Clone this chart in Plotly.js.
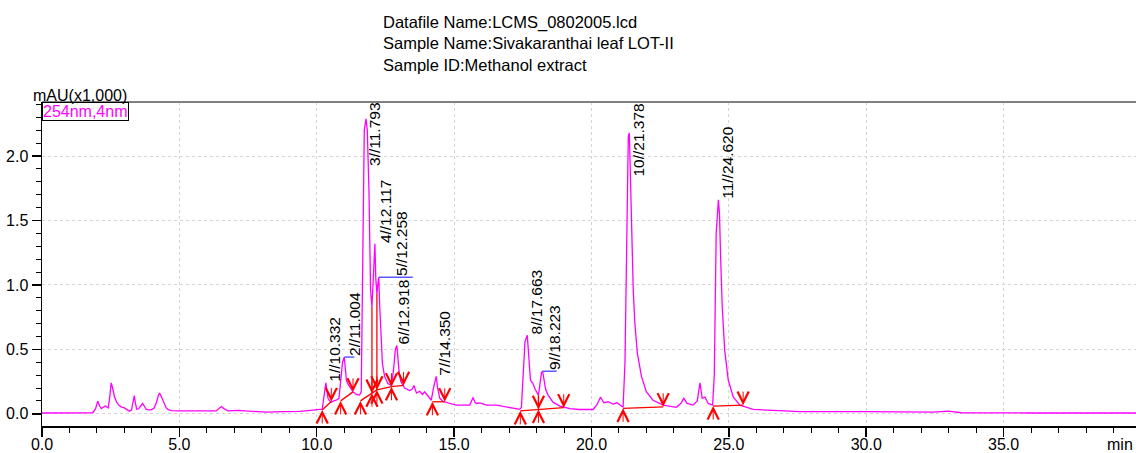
<!DOCTYPE html>
<html><head><meta charset="utf-8">
<script src="https://cdn.plot.ly/plotly-3.0.1.min.js"></script>
<style>html,body{margin:0;padding:0;background:#fff}#chart{width:1136px;height:453px}</style>
</head><body><div id="chart"></div>
<script>
// ---- data ----
const headerLines = ["Datafile Name:LCMS_0802005.lcd", "Sample Name:Sivakaranthai leaf LOT-II", "Sample ID:Methanol extract"];
const channelName = "254nm,4nm";
const yUnitLabel = "mAU(x1,000)";
const xUnitLabel = "min";

const timeMin = [0.0,1.0,1.85,1.95,2.03,2.10,2.16,2.24,2.31,2.37,2.41,2.46,2.52,2.57,2.64,2.72,2.80,2.90,3.00,3.10,3.19,3.26,3.31,3.36,3.40,3.45,3.52,3.59,3.66,3.72,3.79,3.88,3.98,4.08,4.17,4.24,4.28,4.34,4.40,4.46,4.52,4.60,4.70,5.00,5.50,5.98,6.20,6.34,6.44,6.53,6.62,6.77,6.95,7.13,7.40,7.68,8.16,8.80,9.38,9.70,9.92,10.10,10.20,10.26,10.332,10.37,10.41,10.47,10.53,10.62,10.71,10.81,10.88,10.94,11.004,11.04,11.08,11.14,11.20,11.32,11.44,11.56,11.62,11.68,11.73,11.793,11.84,11.90,11.93,11.96,12.01,12.05,12.09,12.117,12.15,12.19,12.22,12.258,12.29,12.33,12.39,12.47,12.59,12.72,12.80,12.86,12.918,12.96,13.00,13.06,13.20,13.38,13.47,13.54,13.63,13.75,13.85,13.93,14.05,14.17,14.25,14.35,14.40,14.48,14.60,14.72,15.08,15.57,15.63,15.69,15.76,15.81,15.93,16.18,16.54,17.02,17.39,17.45,17.52,17.58,17.663,17.72,17.78,17.87,17.95,18.07,18.12,18.18,18.223,18.27,18.33,18.42,18.60,18.85,19.21,19.57,20.06,20.20,20.33,20.45,20.60,20.79,20.93,21.09,21.15,21.22,21.30,21.34,21.378,21.42,21.46,21.52,21.58,21.67,21.82,22.00,22.24,22.61,23.09,23.25,23.36,23.48,23.70,23.85,23.95,24.03,24.13,24.25,24.41,24.47,24.54,24.62,24.66,24.70,24.76,24.85,24.98,25.16,25.40,25.89,26.61,27.59,30.00,32.44,32.99,33.47,36.00,39.82];
const absorbance = [0.006,0.006,0.008,0.04,0.097,0.06,0.04,0.052,0.06,0.05,0.045,0.12,0.24,0.20,0.13,0.09,0.065,0.052,0.045,0.03,0.02,0.03,0.09,0.14,0.08,0.035,0.04,0.065,0.08,0.06,0.035,0.03,0.03,0.045,0.09,0.145,0.16,0.135,0.10,0.065,0.045,0.032,0.025,0.022,0.021,0.024,0.022,0.022,0.04,0.056,0.04,0.022,0.025,0.027,0.022,0.018,0.012,0.016,0.018,0.025,0.033,0.034,0.035,0.12,0.24,0.18,0.12,0.10,0.09,0.10,0.105,0.12,0.25,0.40,0.44,0.36,0.26,0.23,0.21,0.17,0.15,0.145,0.17,1.2,2.2,2.29,2.2,1.74,1.3,0.96,0.83,1.05,1.28,1.32,1.05,0.93,1.0,1.06,0.85,0.6,0.39,0.29,0.235,0.22,0.35,0.50,0.53,0.42,0.32,0.25,0.20,0.18,0.19,0.22,0.16,0.175,0.15,0.17,0.14,0.105,0.20,0.29,0.20,0.12,0.095,0.088,0.067,0.067,0.10,0.127,0.09,0.08,0.085,0.067,0.067,0.05,0.034,0.05,0.30,0.56,0.61,0.45,0.26,0.235,0.19,0.145,0.25,0.32,0.33,0.25,0.19,0.145,0.09,0.06,0.04,0.033,0.033,0.07,0.13,0.085,0.093,0.075,0.085,0.06,0.05,0.40,1.9,2.15,2.18,1.9,1.48,0.96,0.70,0.47,0.29,0.17,0.105,0.067,0.05,0.08,0.12,0.08,0.067,0.10,0.24,0.12,0.13,0.08,0.067,0.30,1.4,1.66,1.55,1.22,0.83,0.49,0.26,0.13,0.067,0.034,0.024,0.016,0.016,0.013,0.02,0.008,0.006,0.006];

const peakNo = [1,2,3,4,5,6,7,8,9,10,11];
const peakRT = [10.332,11.004,11.793,12.117,12.258,12.918,14.350,17.663,18.223,21.378,24.620];

// integration baselines: times and levels (first = start, last = end, interior = drop points)
const baselineTimes = [[10.20,10.53],[10.87,11.32],[11.59,12.01,12.19,12.72],[12.72,13.16],[14.21,14.66],[17.41,18.07,18.99],[21.15,22.61],[24.43,25.52]];
const baselineLevels = [[0.03,0.095],[0.10,0.17],[0.10,0.16,0.185,0.21],[0.21,0.22],[0.093,0.093],[0.023,0.034,0.047],[0.042,0.054],[0.06,0.067]];

// ---- style ----
const FONT = 'Liberation Sans, Arial, sans-serif';
const xRange = [0, 39.82];
const yRange = [-0.095, 2.42];
const M = {l:42, r:0, t:102, b:27};
const H = 453, W = 1136;
const plotH = H - M.t - M.b;
const pxPerUnit = plotH / (yRange[1] - yRange[0]);
const labelFontSize = 15.5;
const labelShift = {1:-1, 2:0, 3:-1, 4:1, 5:13, 6:-2, 7:-1, 8:0, 9:3, 10:0, 11:0};
const leaderPx = {2:10, 5:34, 9:14};

function nearestIdx(t){let b=0;for(let i=0;i<timeMin.length;i++){if(Math.abs(timeMin[i]-t)<Math.abs(timeMin[b]-t))b=i;}return b;}

const ctx = document.createElement('canvas').getContext('2d');
ctx.font = labelFontSize + 'px "Liberation Sans"';

const traces = [{
  x: timeMin, y: absorbance, type:'scatter', mode:'lines',
  line:{color:'#ff00ff', width:1.3}, hoverinfo:'skip', showlegend:false
}];

// baselines
baselineTimes.forEach((bt,i)=>{
  traces.push({x: bt, y: baselineLevels[i], type:'scatter', mode:'lines',
    line:{color:'#ff0000', width:1.3}, hoverinfo:'skip', showlegend:false});
});
// drop lines at interior points
const dx=[], dy=[];
baselineTimes.forEach((bt,i)=>{
  for(let k=1;k<bt.length-1;k++){
    dx.push(bt[k],bt[k],null); dy.push(baselineLevels[i][k], absorbance[nearestIdx(bt[k])], null);
  }
});
traces.push({x:dx,y:dy,type:'scatter',mode:'lines',line:{color:'#ff0000',width:1.3},hoverinfo:'skip',showlegend:false});

const annotations = [];
const shapes = [];
function arrow(t,v,dir){
  annotations.push({x:t,y:v,xref:'x',yref:'y',text:'',showarrow:true,arrowhead:5,arrowsize:2.2,arrowwidth:1,
    arrowcolor:'#ff0000',ax:0,ay:dir*15,standoff:0,startstandoff:0});
}
baselineTimes.forEach((bt,i)=>{
  const bl = baselineLevels[i];
  bt.forEach((t,k)=>{
    if(k===0){arrow(t,bl[k],1);}
    else if(k===bt.length-1){arrow(t,bl[k],-1);}
    else {arrow(t,bl[k],1);arrow(t,bl[k],-1);}
  });
});

// peak labels
peakNo.forEach((n,i)=>{
  const rt = peakRT[i];
  const apex = absorbance[nearestIdx(rt)];
  const txt = n + '//' + rt.toFixed(3);
  const len = ctx.measureText(txt).width + 2;
  const yb = Math.min(apex, yRange[1] - len/pxPerUnit);
  annotations.push({x:rt,y:yb,xref:'x',yref:'y',text:txt,textangle:-90,showarrow:false,
    xanchor:'left',yanchor:'bottom',xshift:labelShift[n],borderpad:0,
    font:{family:FONT,size:labelFontSize,color:'#000'}});
  if(leaderPx[n]){
    shapes.push({type:'line',xref:'x',yref:'y',xsizemode:'pixel',xanchor:rt,x0:0,x1:leaderPx[n],y0:apex,y1:apex,
      line:{color:'#5a5aff',width:1.5}});
  }
});

// top frame line
shapes.push({type:'line',xref:'paper',yref:'paper',x0:0,x1:1,y0:1,y1:1,line:{color:'#808080',width:2}});

annotations.push({xref:'paper',yref:'paper',x:0,y:1,xanchor:'left',yanchor:'top',text:channelName,showarrow:false,
  font:{family:FONT,size:16,color:'#ff00ff'},bordercolor:'#000',borderwidth:1,borderpad:0,bgcolor:'#fff'});
annotations.push({xref:'paper',yref:'paper',x:0,y:1,xanchor:'left',yanchor:'middle',xshift:-11,yshift:7,text:yUnitLabel,showarrow:false,
  font:{family:FONT,size:16,color:'#000'}});
annotations.push({xref:'paper',yref:'paper',x:1,y:0,xanchor:'right',yanchor:'top',xshift:-1,yshift:-8,text:xUnitLabel,showarrow:false,
  font:{family:FONT,size:16,color:'#000'}});

const layout = {
  width:W, height:H, margin:M, paper_bgcolor:'#fff', plot_bgcolor:'#fff',
  font:{family:FONT,size:16,color:'#000'},
  title:{text:headerLines.join('<br>'), xref:'container', yref:'container', x:383/W, xanchor:'left', y:1-28/H, yanchor:'top',
    font:{family:FONT,size:16.5,color:'#000'}},
  xaxis:{range:xRange, showline:true, linecolor:'#000', linewidth:2, ticks:'outside', ticklen:9, tickwidth:1.5, tickcolor:'#000',
    dtick:5, tick0:0, tickformat:'.1f', showgrid:true, gridcolor:'#d4d4d4', griddash:'dot', gridwidth:1, zeroline:false,
    ticklabelstandoff:-6,
    minor:{dtick:1, ticks:'outside', ticklen:5, tickcolor:'#000', tickwidth:1, showgrid:false},
    tickfont:{family:FONT,size:16,color:'#000'}, fixedrange:true},
  yaxis:{range:yRange, showline:true, linecolor:'#000', linewidth:1.5, ticks:'outside', ticklen:9, tickwidth:1.5, tickcolor:'#000',
    tickvals:[0,0.5,1,1.5,2], tickformat:'.1f', showgrid:true, gridcolor:'#d4d4d4', griddash:'dot', gridwidth:1, zeroline:false,
    minor:{dtick:0.1, tick0:0, ticks:'outside', ticklen:5, tickcolor:'#000', tickwidth:1, showgrid:false},
    tickfont:{family:FONT,size:16,color:'#000'}, fixedrange:true},
  annotations: annotations, shapes: shapes, showlegend:false
};
Plotly.newPlot('chart', traces, layout, {staticPlot:true, displayModeBar:false});
</script></body></html>
